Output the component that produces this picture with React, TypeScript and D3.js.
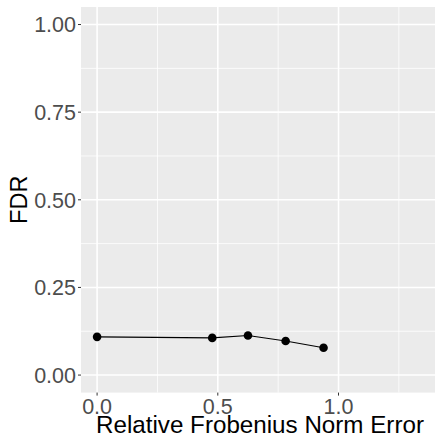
import React from 'react';
import * as d3 from 'd3';

// values
const normError = [0, 0.477, 0.625, 0.781, 0.938];
const fdr = [0.109, 0.106, 0.113, 0.097, 0.078];
const xLimits = [0, 1.333];
const yLimits = [0, 1];
const xTicks = [0, 0.5, 1];
const xMinor = [0.25, 0.75, 1.25];
const yTicks = [0, 0.25, 0.5, 0.75, 1];
const yMinor = [0.125, 0.375, 0.625, 0.875];

const W = 435,
	H = 437;
const panel = { left: 81, right: 435, top: 7, bottom: 392.6 };
const font = '"Liberation Sans", Arial, sans-serif';

const expand = (lim) => {
	const d = (lim[1] - lim[0]) * 0.05;
	return [lim[0] - d, lim[1] + d];
};

export default function App() {
	const x = d3.scaleLinear().domain(expand(xLimits)).range([panel.left, panel.right]);
	const y = d3.scaleLinear().domain(expand(yLimits)).range([panel.bottom, panel.top]);
	const pts = normError.map((v, i) => [v, fdr[i]]);
	const line = d3
		.line()
		.x((d) => x(d[0]))
		.y((d) => y(d[1]));

	return (
		<svg width={W} height={H} style={{ position: 'absolute', left: 0, top: 0 }} fontFamily={font}>
			<rect
				x={panel.left}
				y={panel.top}
				width={panel.right - panel.left}
				height={panel.bottom - panel.top}
				fill="#EBEBEB"
			/>
			{yMinor.map((t) => (
				<line key={'ym' + t} x1={panel.left} x2={panel.right} y1={y(t)} y2={y(t)} stroke="#fff" strokeWidth={0.8} />
			))}
			{xMinor.map((t) => (
				<line key={'xm' + t} x1={x(t)} x2={x(t)} y1={panel.top} y2={panel.bottom} stroke="#fff" strokeWidth={0.8} />
			))}
			{yTicks.map((t) => (
				<line key={'yg' + t} x1={panel.left} x2={panel.right} y1={y(t)} y2={y(t)} stroke="#fff" strokeWidth={1.6} />
			))}
			{xTicks.map((t) => (
				<line key={'xg' + t} x1={x(t)} x2={x(t)} y1={panel.top} y2={panel.bottom} stroke="#fff" strokeWidth={1.6} />
			))}
			<path d={line(pts)} fill="none" stroke="#000" strokeWidth={1.1} />
			{pts.map((d, i) => (
				<circle key={i} cx={x(d[0])} cy={y(d[1])} r={4.3} fill="#000" />
			))}
			{yTicks.map((t) => (
				<g key={'yt' + t}>
					<line x1={panel.left - 3} x2={panel.left} y1={y(t)} y2={y(t)} stroke="#333" strokeWidth={1} />
					<text
						x={panel.left - 5}
						y={y(t)}
						dy="0.36em"
						textAnchor="end"
						fontSize={21.5}
						fill="#4D4D4D"
					>
						{d3.format('.2f')(t)}
					</text>
				</g>
			))}
			{xTicks.map((t) => (
				<g key={'xt' + t}>
					<line x1={x(t)} x2={x(t)} y1={panel.bottom} y2={panel.bottom + 3} stroke="#333" strokeWidth={1} />
					<text x={x(t)} y={414} textAnchor="middle" fontSize={21.5} fill="#4D4D4D">
						{d3.format('.1f')(t)}
					</text>
				</g>
			))}
			<text x={(panel.left + panel.right) / 2 + 2} y={433} textAnchor="middle" fontSize={24.2} fill="#000">
				Relative Frobenius Norm Error
			</text>
			<text
				transform={`translate(27,${(panel.top + panel.bottom) / 2}) rotate(-90)`}
				textAnchor="middle"
				fontSize={23.5}
				fill="#000"
			>
				FDR
			</text>
		</svg>
	);
}
